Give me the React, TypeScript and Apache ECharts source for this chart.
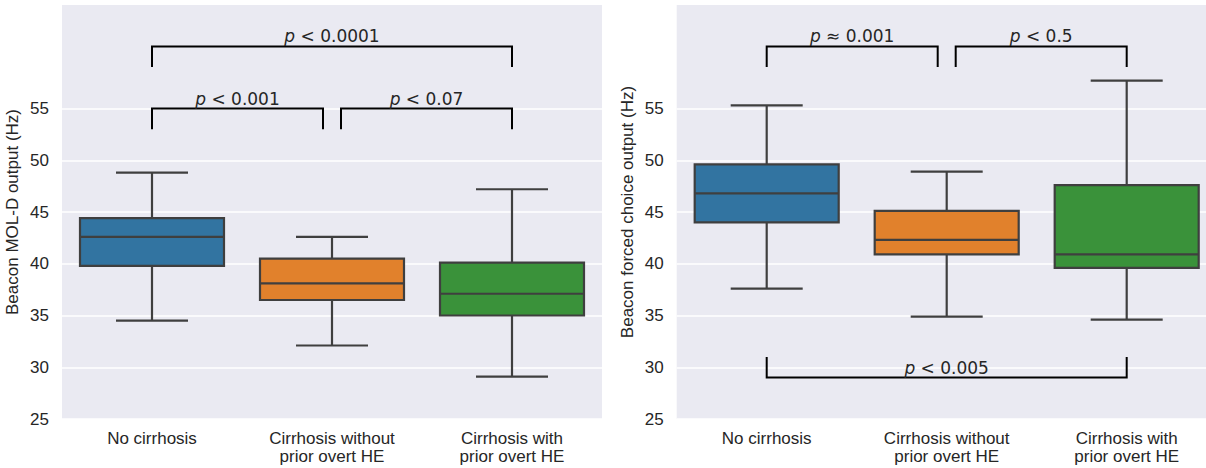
import React, { useEffect, useRef } from 'react';
import * as echarts from 'echarts';

const categories = ['No cirrhosis', 'Cirrhosis without\nprior overt HE', 'Cirrhosis with\nprior overt HE'];
const boxColors = ['#3274a1', '#e1812c', '#3a923a'];
const yTicks = [25, 30, 35, 40, 45, 50, 55];

// Left panel: Beacon MOL-D output (Hz)
const molMin = [34.5, 32.1, 29.1];
const molQ1 = [39.8, 36.5, 35.0];
const molMedian = [42.6, 38.1, 37.1];
const molQ3 = [44.4, 40.5, 40.1];
const molMax = [48.8, 42.6, 47.2];

// Right panel: Beacon forced choice output (Hz)
const fcMin = [37.6, 34.9, 34.6];
const fcQ1 = [44.0, 40.9, 39.6];
const fcMedian = [46.8, 42.3, 40.9];
const fcQ3 = [49.6, 45.1, 47.6];
const fcMax = [55.3, 48.9, 57.7];

// Significance brackets
const molBracketFrom = [0, 0, 1];
const molBracketTo = [2, 1, 2];
const molBracketLine = [61, 55, 55];
const molBracketTip = [59, 53, 53];
const molBracketLabel = ['p < 0.0001', 'p < 0.001', 'p < 0.07'];

const fcBracketFrom = [0, 1, 0];
const fcBracketTo = [1, 2, 2];
const fcBracketLine = [61, 61, 29];
const fcBracketTip = [59, 59, 31];
const fcBracketLabel = ['p ≈ 0.001', 'p < 0.5', 'p < 0.005'];

const EDGE = '#3f3f3f';
const TEXT = '#262626';
const SANS = '"Liberation Sans", Arial, sans-serif';
const DEJAVU = '"DejaVu Sans", sans-serif';

function boxRows(mn: number[], q1: number[], md: number[], q3: number[], mx: number[]) {
  return mn.map((_, i) => [i, mn[i], q1[i], md[i], q3[i], mx[i]]);
}

function bracketRows(from: number[], to: number[], line: number[], tip: number[]) {
  return from.map((_, i) => [from[i], to[i], line[i], tip[i], i]);
}

const boxRender = (params: any, api: any) => {
  const i = api.value(0);
  const pMin = api.coord([i, api.value(1)]);
  const pQ1 = api.coord([i, api.value(2)]);
  const pMed = api.coord([i, api.value(3)]);
  const pQ3 = api.coord([i, api.value(4)]);
  const pMax = api.coord([i, api.value(5)]);
  const band = api.size([1, 0])[0];
  const bw = band * 0.8;
  const cw = bw / 4;
  const x = pMin[0];
  const ls = { stroke: EDGE, lineWidth: 2.2, fill: null };
  return {
    type: 'group',
    children: [
      { type: 'line', shape: { x1: x, y1: pMax[1], x2: x, y2: pQ3[1] }, style: ls },
      { type: 'line', shape: { x1: x, y1: pQ1[1], x2: x, y2: pMin[1] }, style: ls },
      { type: 'line', shape: { x1: x - cw, y1: pMax[1], x2: x + cw, y2: pMax[1] }, style: ls },
      { type: 'line', shape: { x1: x - cw, y1: pMin[1], x2: x + cw, y2: pMin[1] }, style: ls },
      {
        type: 'rect',
        shape: { x: x - bw / 2, y: pQ3[1], width: bw, height: pQ1[1] - pQ3[1] },
        style: { fill: boxColors[params.dataIndex], stroke: EDGE, lineWidth: 2.2 },
      },
      { type: 'line', shape: { x1: x - bw / 2, y1: pMed[1], x2: x + bw / 2, y2: pMed[1] }, style: ls },
    ],
  };
};

const makeBracketRender = (labels: string[]) => (params: any, api: any) => {
  const i1 = api.value(0);
  const i2 = api.value(1);
  const yl = api.value(2);
  const yt = api.value(3);
  const a = api.coord([i1, yl]);
  const b = api.coord([i2, yl]);
  const t = api.coord([i1, yt]);
  const adjacent = i2 - i1 === 1;
  let xa = a[0];
  let xb = b[0];
  if (adjacent && i1 === 1) xa += 9;
  if (adjacent && i2 === 1) xb -= 9;
  const label = labels[api.value(4)];
  return {
    type: 'group',
    children: [
      {
        type: 'polyline',
        shape: { points: [[xa, t[1]], [xa, a[1]], [xb, a[1]], [xb, t[1]]] },
        style: { stroke: '#000', lineWidth: 2, fill: null },
      },
      {
        type: 'text',
        style: {
          x: (xa + xb) / 2,
          y: a[1] - 10,
          text: '{i|' + label.slice(0, 1) + '}{r|' + label.slice(1) + '}',
          align: 'center',
          verticalAlign: 'middle',
          fill: TEXT,
          fontSize: 17,
          fontFamily: DEJAVU,
          rich: {
            i: { fontStyle: 'italic', fontSize: 17, fontFamily: DEJAVU, fill: TEXT },
            r: { fontSize: 17, fontFamily: DEJAVU, fill: TEXT },
          },
        },
      },
    ],
  };
};

function xAxisFor(gridIndex: number) {
  return {
    type: 'category',
    gridIndex,
    data: categories,
    axisLine: { show: false },
    axisTick: { show: false },
    splitLine: { show: false },
    axisLabel: { color: TEXT, fontFamily: SANS, fontSize: 17, lineHeight: 18, margin: 10, interval: 0 },
  };
}

function yAxisFor(gridIndex: number, name: string) {
  return {
    type: 'value',
    gridIndex,
    min: 25,
    max: 65,
    name,
    nameLocation: 'middle',
    nameGap: 41,
    nameTextStyle: { color: TEXT, fontFamily: SANS, fontSize: 17 },
    axisLine: { show: false },
    axisTick: { show: false, customValues: yTicks },
    axisLabel: { customValues: yTicks, color: TEXT, fontFamily: SANS, fontSize: 17, margin: 13 },
    splitLine: { show: true, lineStyle: { color: '#ffffff', width: 1.5 } },
  };
}

export default function App() {
  const ref = useRef<HTMLDivElement>(null);
  useEffect(() => {
    if (!ref.current) return;
    const chart = echarts.init(ref.current, null, { renderer: 'svg' });
    chart.setOption({
      animation: false,
      backgroundColor: '#ffffff',
      grid: [
        { left: 62, top: 5, width: 540, height: 414, show: true, backgroundColor: '#eaeaf2', borderWidth: 0 },
        { left: 676.7, top: 5, width: 540, height: 414, show: true, backgroundColor: '#eaeaf2', borderWidth: 0 },
      ],
      xAxis: [xAxisFor(0), xAxisFor(1)],
      yAxis: [yAxisFor(0, 'Beacon MOL-D output (Hz)'), yAxisFor(1, 'Beacon forced choice output (Hz)')],
      series: [
        {
          type: 'custom',
          xAxisIndex: 0,
          yAxisIndex: 0,
          renderItem: boxRender,
          encode: { x: 0, y: [1, 2, 3, 4, 5] },
          data: boxRows(molMin, molQ1, molMedian, molQ3, molMax),
          silent: true,
        },
        {
          type: 'custom',
          xAxisIndex: 1,
          yAxisIndex: 1,
          renderItem: boxRender,
          encode: { x: 0, y: [1, 2, 3, 4, 5] },
          data: boxRows(fcMin, fcQ1, fcMedian, fcQ3, fcMax),
          silent: true,
        },
        {
          type: 'custom',
          xAxisIndex: 0,
          yAxisIndex: 0,
          renderItem: makeBracketRender(molBracketLabel),
          encode: { x: [0, 1], y: [2, 3] },
          data: bracketRows(molBracketFrom, molBracketTo, molBracketLine, molBracketTip),
          silent: true,
        },
        {
          type: 'custom',
          xAxisIndex: 1,
          yAxisIndex: 1,
          renderItem: makeBracketRender(fcBracketLabel),
          encode: { x: [0, 1], y: [2, 3] },
          data: bracketRows(fcBracketFrom, fcBracketTo, fcBracketLine, fcBracketTip),
          silent: true,
        },
      ],
    });
    return () => chart.dispose();
  }, []);
  return (
    <div style={{ position: 'absolute', left: 0, top: 0, width: 1206, height: 468, overflow: 'hidden' }}>
      <div ref={ref} style={{ width: 1240, height: 468 }} />
    </div>
  );
}
